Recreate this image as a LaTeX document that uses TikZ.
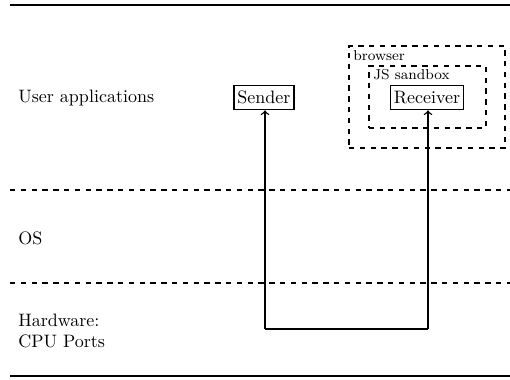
\documentclass[tikz,border=0pt]{standalone}
\begin{document}
\begin{tikzpicture}[x=0.5556pt,y=-0.5556pt,
  layer/.style={anchor=west,inner sep=0pt,align=left},
  procbox/.style={draw,thick,inner sep=2pt,minimum height=13.5pt},
  sandbox/.style={draw,thick,dashed},
  sandlabel/.style={anchor=north west,inner sep=0pt,font=\footnotesize},
  sep/.style={thick,dashed},
  rule/.style={thick}]
\useasboundingbox (0,0) rectangle (510,379);
% horizontal rules
\coordinate (t1) at (10,5);   \coordinate (t2) at (510,5);
\coordinate (b1) at (10,376); \coordinate (b2) at (510,376);
\coordinate (d1) at (10,190); \coordinate (d2) at (510,190);
\coordinate (e1) at (10,283); \coordinate (e2) at (510,283);
\draw[rule] (t1) -- (t2);
\draw[rule] (b1) -- (b2);
\draw[sep] (d1) -- (d2);
\draw[sep] (e1) -- (e2);
% layer labels
\node[layer] (user) at (18,98) {User applications};
\node[layer] (os) at (18,238) {OS};
\node[layer] (hw) at (18,331) {Hardware:\\CPU Ports};
% sandboxes
\node[sandbox,minimum width=86.7pt,minimum height=56.7pt] (browser) at (427,97) {};
\node[sandlabel] (browserlbl) at (353,50) {browser};
\node[sandbox,minimum width=65pt,minimum height=34.5pt] (jsbox) at (427.5,97) {};
\node[sandlabel] (jslbl) at (373,69) {JS sandbox};
% processes
\node[procbox] (sender) at (264,97.5) {Sender};
\node[procbox] (receiver) at (427,97.5) {Receiver};
% channel
\coordinate (c1) at (265,329);
\coordinate (c2) at (428,329);
\draw[thick,->] (c1) -- (c1 |- sender.south);
\draw[thick] (c1) -- (c2);
\draw[thick,->] (c2) -- (c2 |- receiver.south);
\end{tikzpicture}
\end{document}
